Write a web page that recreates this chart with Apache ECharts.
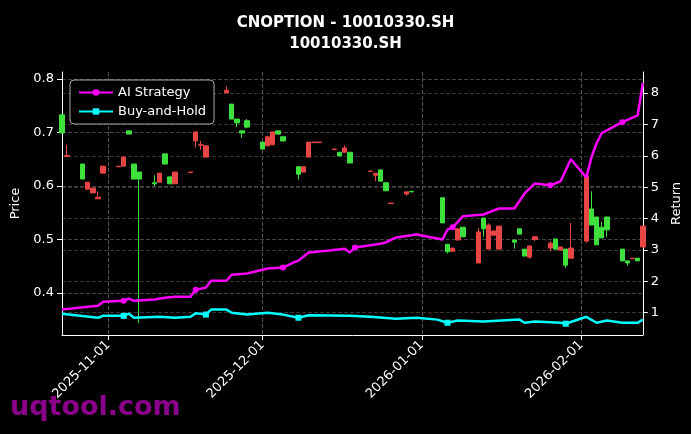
<!DOCTYPE html>
<html>
<head>
<meta charset="utf-8">
<script src="https://cdn.jsdelivr.net/npm/echarts@6/dist/echarts.min.js"></script>
<style>
  html, body { margin: 0; padding: 0; background: #000; }
  #main { width: 691px; height: 434px; }
</style>
</head>
<body>
<div id="main"></div>
<script>
// K线数据 [日期, 开, 收, 低, 高]
const candleDates = ['2025-10-23','2025-10-24','2025-10-27','2025-10-28','2025-10-29','2025-10-30','2025-10-31',
  '2025-11-03','2025-11-04','2025-11-05','2025-11-06','2025-11-07','2025-11-10','2025-11-11','2025-11-12','2025-11-13','2025-11-14',
  '2025-11-17','2025-11-18','2025-11-19','2025-11-20','2025-11-24','2025-11-25','2025-11-26','2025-11-27','2025-11-28',
  '2025-12-01','2025-12-02','2025-12-03','2025-12-04','2025-12-05','2025-12-08','2025-12-09','2025-12-10','2025-12-11','2025-12-12',
  '2025-12-15','2025-12-16','2025-12-17','2025-12-18','2025-12-22','2025-12-23','2025-12-24','2025-12-25','2025-12-26','2025-12-29','2025-12-30',
  '2026-01-05','2026-01-06','2026-01-07','2026-01-08','2026-01-09','2026-01-12','2026-01-13','2026-01-14','2026-01-15','2026-01-16',
  '2026-01-19','2026-01-20','2026-01-21','2026-01-22','2026-01-23','2026-01-26','2026-01-27','2026-01-28','2026-01-29','2026-01-30',
  '2026-02-02','2026-02-03','2026-02-04','2026-02-05','2026-02-06','2026-02-09','2026-02-10','2026-02-11','2026-02-12','2026-02-13']
const opens  = [0.699,0.657,0.613,0.607,0.596,0.579,0.637, 0.637,0.654,0.697,0.613,0.613,0.604,0.624,0.641,0.604,0.626,
  0.626,0.701,0.677,0.675,0.779,0.725,0.718,0.699,0.710, 0.669,0.692,0.701,0.697,0.684,0.622,0.636,0.682,0.682,0.682,
  0.669,0.656,0.671,0.643,0.628,0.624,0.609,0.591,0.568,0.589,0.589,
  0.531,0.477,0.484,0.520,0.505,0.514,0.520,0.527,0.516,0.525,
  0.495,0.510,0.469,0.488,0.505,0.493,0.482,0.486,0.452,0.484,
  0.619,0.527,0.490,0.503,0.518,0.460,0.456,0.465,0.460,0.525]
const closes = [0.733,0.655,0.641,0.594,0.587,0.576,0.624, 0.636,0.637,0.703,0.641,0.626,0.606,0.607,0.660,0.617,0.604,
  0.625,0.684,0.676,0.654,0.774,0.753,0.725,0.703,0.722, 0.682,0.675,0.677,0.703,0.692,0.636,0.626,0.654,0.681,0.681,
  0.668,0.663,0.663,0.663,0.627,0.620,0.630,0.606,0.567,0.585,0.590,
  0.578,0.491,0.478,0.499,0.523,0.456,0.540,0.482,0.508,0.482,
  0.499,0.520,0.482,0.467,0.500,0.484,0.501,0.480,0.482,0.465,
  0.497,0.557,0.542,0.523,0.542,0.482,0.460,0.464,0.465,0.486]
const lows   = [0.699,0.655,0.613,0.594,0.587,0.576,0.624, 0.636,0.637,0.697,0.613,0.344,0.600,0.607,0.641,0.604,0.604,
  0.625,0.672,0.668,0.654,0.774,0.725,0.710,0.690,0.708, 0.669,0.675,0.677,0.697,0.684,0.612,0.626,0.654,0.681,0.681,
  0.668,0.656,0.663,0.643,0.627,0.609,0.609,0.591,0.567,0.582,0.589,
  0.531,0.474,0.478,0.499,0.505,0.456,0.505,0.482,0.508,0.482,
  0.483,0.510,0.469,0.464,0.497,0.478,0.482,0.480,0.447,0.465,
  0.494,0.527,0.490,0.503,0.505,0.460,0.451,0.464,0.460,0.486]
const highs  = [0.733,0.677,0.641,0.607,0.596,0.590,0.637, 0.637,0.654,0.703,0.641,0.626,0.620,0.624,0.660,0.617,0.626,
  0.626,0.701,0.684,0.675,0.786,0.753,0.725,0.703,0.725, 0.682,0.692,0.701,0.703,0.692,0.636,0.636,0.682,0.682,0.682,
  0.669,0.663,0.676,0.663,0.628,0.624,0.630,0.606,0.568,0.589,0.590,
  0.578,0.491,0.484,0.520,0.523,0.521,0.540,0.530,0.516,0.525,
  0.499,0.520,0.482,0.488,0.505,0.497,0.501,0.486,0.482,0.531,
  0.619,0.590,0.542,0.533,0.542,0.482,0.460,0.465,0.465,0.525]

// AI 策略收益
const aiDates = ['2025-10-23','2025-10-30','2025-10-31','2025-11-04','2025-11-05','2025-11-06','2025-11-10','2025-11-12','2025-11-14',
  '2025-11-17','2025-11-18','2025-11-20','2025-11-21','2025-11-24','2025-11-25','2025-11-28','2025-12-02','2025-12-05','2025-12-07','2025-12-08',
  '2025-12-10','2025-12-14','2025-12-17','2025-12-18','2025-12-19','2025-12-23','2025-12-25','2025-12-27','2025-12-31',
  '2026-01-05','2026-01-06','2026-01-07','2026-01-09','2026-01-13','2026-01-16','2026-01-19','2026-01-21','2026-01-23','2026-01-26',
  '2026-01-28','2026-01-30','2026-02-02','2026-02-03','2026-02-04','2026-02-05','2026-02-09','2026-02-12','2026-02-13']
const aiValues = [1.10,1.22,1.35,1.38,1.45,1.38,1.42,1.48,1.51,1.51,1.73,1.80,2.02,2.02,2.21,2.25,2.41,2.44,2.60,2.66,
  2.92,2.98,3.04,2.92,3.08,3.17,3.24,3.40,3.49,3.33,3.65,3.72,4.07,4.13,4.32,4.32,4.80,5.12,5.06,5.19,5.89,5.31,5.95,6.40,6.72,7.07,7.29,8.32]

// 买入持有收益
const bhDates = ['2025-10-23','2025-10-30','2025-10-31','2025-11-04','2025-11-05','2025-11-06','2025-11-11','2025-11-14','2025-11-17',
  '2025-11-18','2025-11-20','2025-11-21','2025-11-24','2025-11-25','2025-11-28','2025-12-02','2025-12-05','2025-12-08','2025-12-10',
  '2025-12-18','2025-12-22','2025-12-27','2025-12-31','2026-01-04','2026-01-06','2026-01-08','2026-01-13','2026-01-20','2026-01-21',
  '2026-01-23','2026-01-28','2026-01-29','2026-02-02','2026-02-04','2026-02-06','2026-02-09','2026-02-12','2026-02-13']
const bhValues = [0.97,0.84,0.90,0.90,0.97,0.84,0.87,0.84,0.87,0.98,0.94,1.10,1.10,1.00,0.94,1.00,0.94,0.84,0.92,
  0.90,0.87,0.81,0.84,0.78,0.68,0.75,0.72,0.78,0.68,0.72,0.68,0.65,0.87,0.68,0.75,0.68,0.68,0.78]

const monthTicks = ['2025-11-01', '2025-12-01', '2026-01-01', '2026-02-01']
const priceTicks = [0.4, 0.5, 0.6, 0.7, 0.8]
const returnTicks = [1, 2, 3, 4, 5, 6, 7, 8]

// 日期转时间戳
const ts = d => Date.UTC(+d.slice(0, 4), +d.slice(5, 7) - 1, +d.slice(8, 10))
const fmt = v => { const d = new Date(v); return d.getUTCFullYear() + '-' + String(d.getUTCMonth() + 1).padStart(2, '0') + '-' + String(d.getUTCDate()).padStart(2, '0') }

const myChart = echarts.init(document.querySelector('#main'))
const font = 'DejaVu Sans'
const markSize = (v, p) => (p.dataIndex % 7 === 3 ? 6 : 0)

const option = {
  backgroundColor: '#000',
  animation: false,
  textStyle: { fontFamily: font },
  title: {
    text: 'CNOPTION - 10010330.SH\n10010330.SH',
    left: 'center',
    top: 8,
    textStyle: { color: '#fff', fontSize: 15, fontWeight: 'bold', lineHeight: 21, fontFamily: font }
  },
  legend: {
    left: 70, top: 80, orient: 'vertical',
    backgroundColor: '#000', borderColor: '#aaa', borderWidth: 1, borderRadius: 4,
    padding: [6, 8], itemGap: 6, itemWidth: 34, itemHeight: 8,
    textStyle: { color: '#fff', fontSize: 13 },
    data: ['AI Strategy', 'Buy-and-Hold']
  },
  grid: { left: 62, right: 48, top: 72, bottom: 99 },
  xAxis: {
    type: 'value',
    min: ts('2025-10-23'), max: ts('2026-02-13'),
    axisLine: { lineStyle: { color: '#fff' } },
    axisTick: { customValues: monthTicks.map(ts), lineStyle: { color: '#fff' } },
    axisLabel: { customValues: monthTicks.map(ts), color: '#fff', fontSize: 13, rotate: 45, formatter: fmt },
    splitLine: { show: true, lineStyle: { color: '#555', type: 'dashed' } }
  },
  yAxis: [
    {
      type: 'value', min: 0.3215, max: 0.813, name: 'Price', nameLocation: 'middle', nameGap: 34,
      nameTextStyle: { color: '#fff', fontSize: 13 },
      axisLine: { show: true, lineStyle: { color: '#fff' } },
      axisTick: { show: true, customValues: priceTicks },
      axisLabel: { customValues: priceTicks, color: '#fff', fontSize: 13, formatter: v => v.toFixed(1) },
      splitLine: { show: true, lineStyle: { color: '#444', type: 'dashed' } }
    },
    {
      type: 'value', min: 0.29, max: 8.67, name: 'Return', nameLocation: 'middle', nameGap: 22,
      nameTextStyle: { color: '#fff', fontSize: 13 },
      axisLine: { show: true, lineStyle: { color: '#fff' } },
      axisTick: { show: true, customValues: returnTicks },
      axisLabel: { customValues: returnTicks, color: '#fff', fontSize: 13 },
      splitLine: { show: true, lineStyle: { color: '#333', type: 'dashed' } }
    }
  ],
  series: [
    {
      type: 'candlestick',
      barWidth: 5,
      itemStyle: { color: '#3de03d', color0: '#e84545', borderColor: '#3de03d', borderColor0: '#e84545', borderWidth: 1 },
      data: candleDates.map((d, i) => [ts(d), opens[i], closes[i], lows[i], highs[i]])
    },
    {
      name: 'AI Strategy', type: 'line', yAxisIndex: 1,
      symbol: 'circle', symbolSize: markSize,
      lineStyle: { color: '#ff00ff', width: 2.5 }, itemStyle: { color: '#ff00ff' },
      data: aiDates.map((d, i) => [ts(d), aiValues[i]])
    },
    {
      name: 'Buy-and-Hold', type: 'line', yAxisIndex: 1,
      symbol: 'rect', symbolSize: markSize,
      lineStyle: { color: '#00ffff', width: 2.5 }, itemStyle: { color: '#00ffff' },
      data: bhDates.map((d, i) => [ts(d), bhValues[i]])
    }
  ],
  graphic: [{
    type: 'text', left: 10, top: 394,
    style: { text: 'uqtool.com', fill: '#8b008b', font: 'bold 27px "DejaVu Sans"' }
  }]
}

myChart.setOption(option)
</script>
</body>
</html>
